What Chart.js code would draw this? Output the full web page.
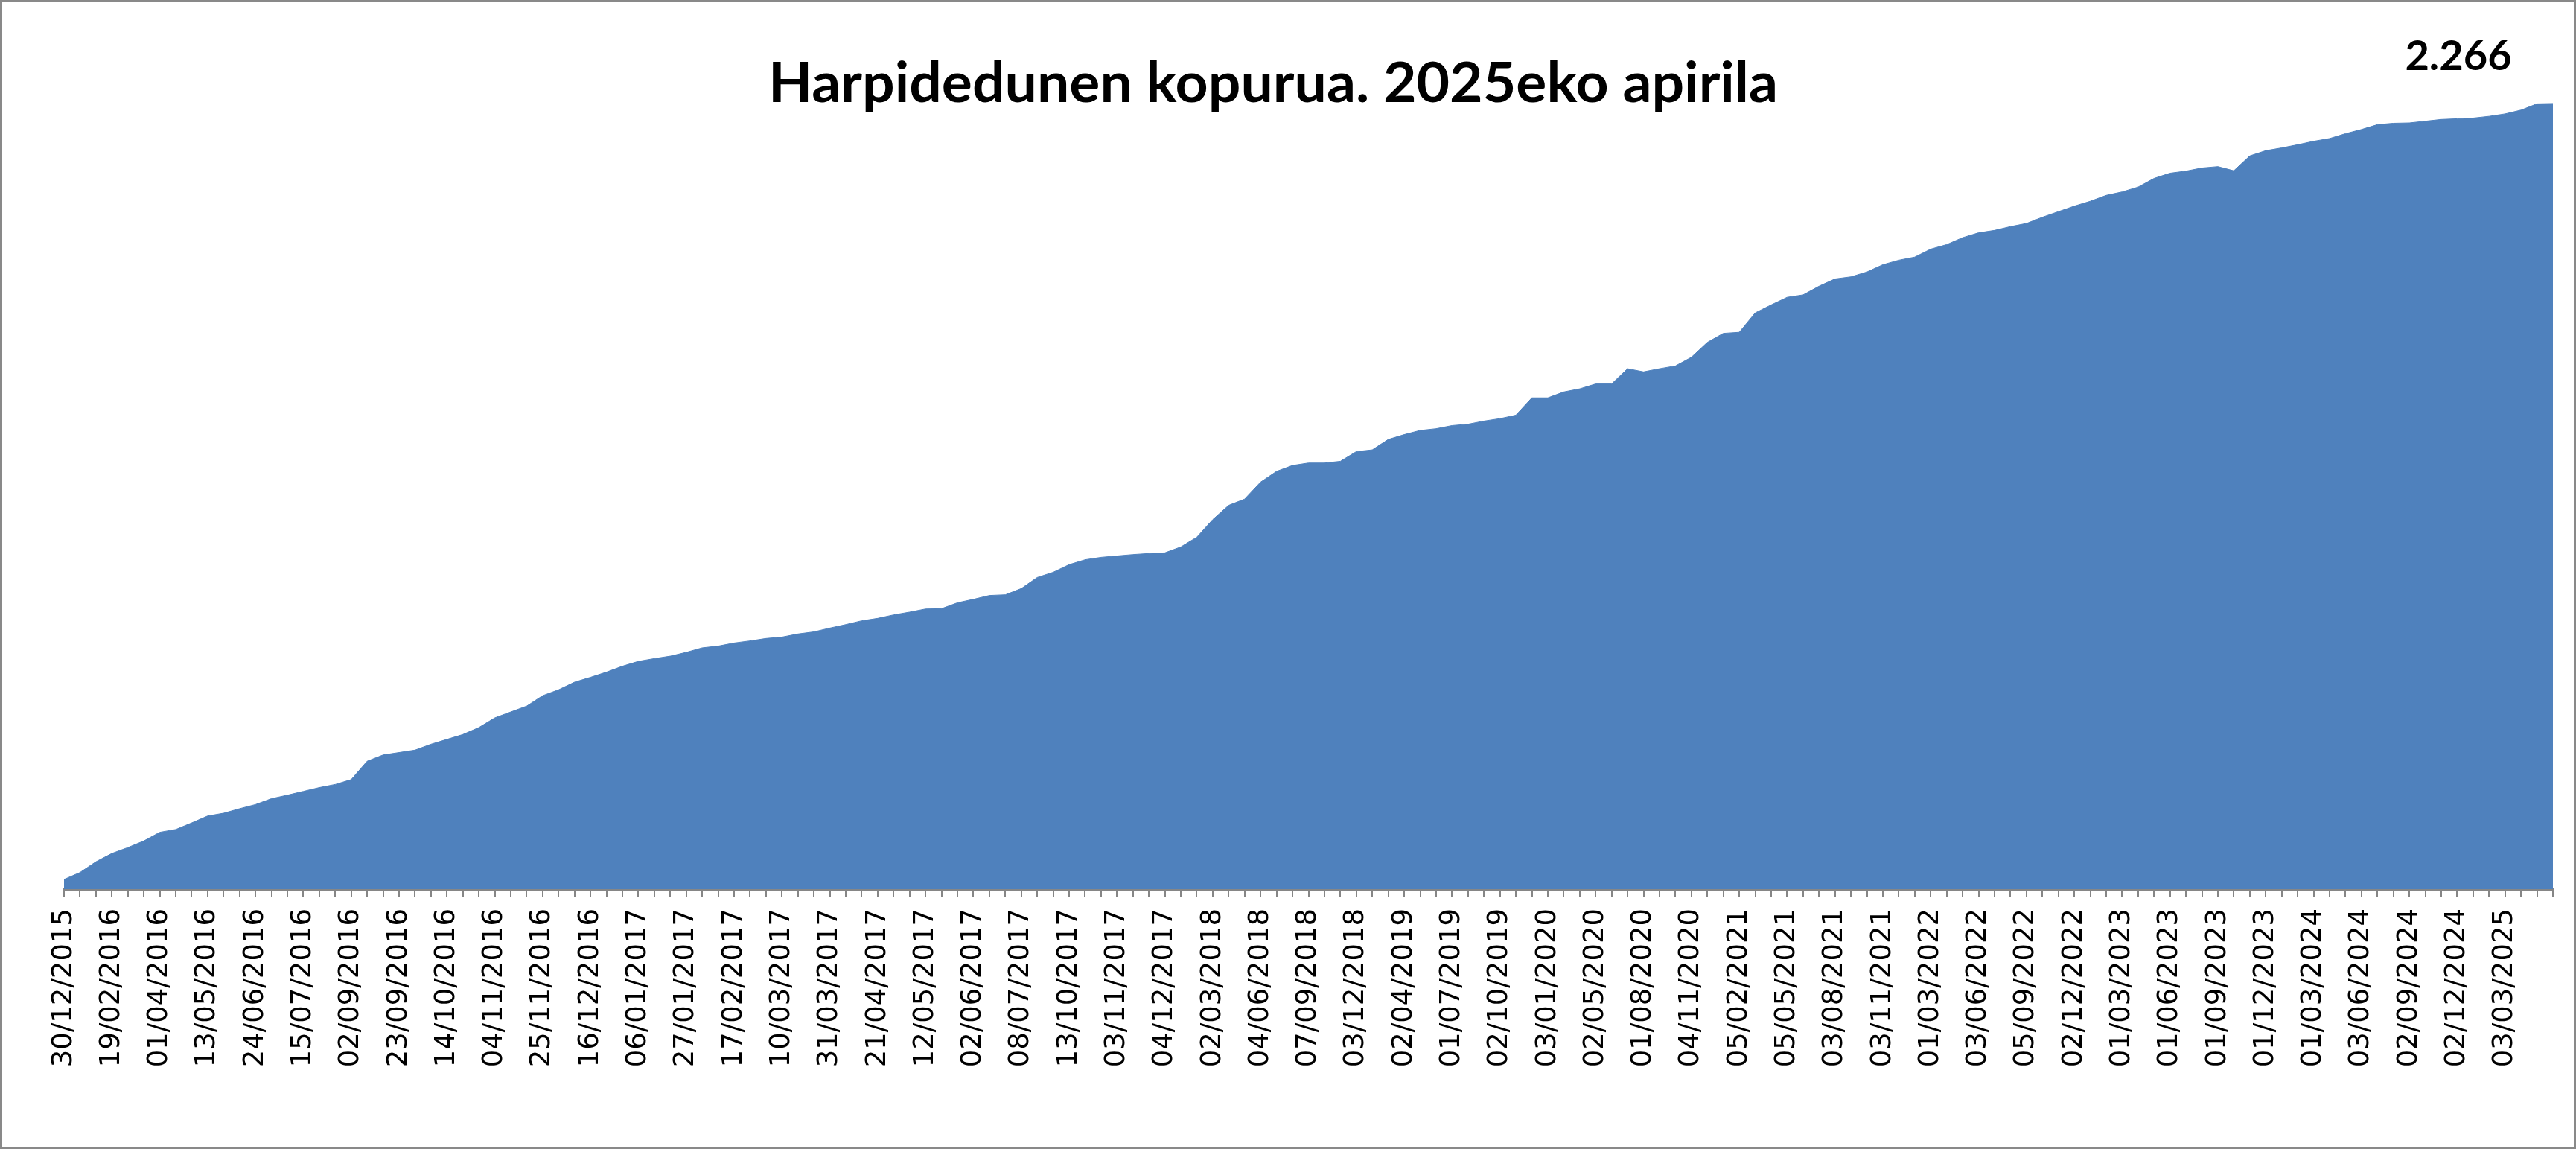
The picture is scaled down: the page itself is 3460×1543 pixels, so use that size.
<!DOCTYPE html>
<html>
<head>
<meta charset="utf-8">
<script src="https://cdn.jsdelivr.net/npm/chart.js@4.4.1/dist/chart.umd.min.js"></script>
<style>
  html, body { margin: 0; padding: 0; background: #ffffff; }
  #wrap { position: relative; width: 3460px; height: 1543px; }
</style>
</head>
<body>
<div id="wrap"><canvas id="c"></canvas></div>
<script>
const TITLE = 'Harpidedunen kopurua. 2025eko apirila';

// Visible tick labels (every third category)
const tickLabels = [
  '30/12/2015','19/02/2016','01/04/2016','13/05/2016','24/06/2016','15/07/2016',
  '02/09/2016','23/09/2016','14/10/2016','04/11/2016','25/11/2016','16/12/2016',
  '06/01/2017','27/01/2017','17/02/2017','10/03/2017','31/03/2017','21/04/2017',
  '12/05/2017','02/06/2017','08/07/2017','13/10/2017','03/11/2017','04/12/2017',
  '02/03/2018','04/06/2018','07/09/2018','03/12/2018','02/04/2019','01/07/2019',
  '02/10/2019','03/01/2020','02/05/2020','01/08/2020','04/11/2020','05/02/2021',
  '05/05/2021','03/08/2021','03/11/2021','01/03/2022','03/06/2022','05/09/2022',
  '02/12/2022','01/03/2023','01/06/2023','01/09/2023','01/12/2023','01/03/2024',
  '03/06/2024','02/09/2024','02/12/2024','03/03/2025'
];

// Subscriber counts, one per category
const subscribers = [
  28, 48, 79, 103, 120, 139, 164, 172, 191, 211,
  219, 232, 244, 261, 271, 282, 293, 302, 316, 369,
  387, 394, 401, 418, 432, 446, 466, 494, 511, 528,
  558, 575, 597, 611, 626, 643, 657, 665, 672, 683,
  696, 701, 710, 716, 723, 727, 736, 742, 753, 763,
  774, 781, 791, 799, 808, 809, 826, 836, 847, 849,
  867, 899, 914, 936, 950, 957, 961, 965, 968, 970,
  987, 1015, 1066, 1107, 1125, 1174, 1205, 1222, 1229, 1229,
  1234, 1262, 1267, 1297, 1311, 1323, 1328, 1337, 1341, 1350,
  1357, 1367, 1417, 1417, 1434, 1443, 1457, 1457, 1501, 1492,
  1501, 1509, 1534, 1577, 1603, 1606, 1662, 1685, 1707, 1714,
  1739, 1760, 1766, 1780, 1801, 1814, 1823, 1846, 1859, 1879,
  1893, 1900, 1911, 1920, 1938, 1954, 1970, 1984, 2001, 2011,
  2025, 2050, 2065, 2071, 2080, 2084, 2072, 2115, 2130, 2138,
  2147, 2157, 2165, 2179, 2191, 2205, 2209, 2210, 2215, 2220,
  2222, 2224, 2229, 2236, 2247, 2265, 2266
];

const LABEL_STEP = 3;
const categories = subscribers.map((_, i) =>
  (i % LABEL_STEP === 0 && tickLabels[i / LABEL_STEP] !== undefined) ? tickLabels[i / LABEL_STEP] : ''
);

function fmtThousands(v) {
  return String(v).replace(/\B(?=(\d{3})+(?!\d))/g, '.');
}

const frameAndTextPlugin = {
  id: 'frameAndText',
  beforeDraw(chart) {
    const ctx = chart.ctx;
    ctx.save();
    ctx.fillStyle = '#ffffff';
    ctx.fillRect(0, 0, chart.width, chart.height);
    ctx.restore();
  },
  afterDraw(chart) {
    const ctx = chart.ctx;
    // Title
    ctx.save();
    ctx.fillStyle = '#000000';
    ctx.font = 'bold 75px Lato';
    const w = ctx.measureText(TITLE).width;
    const sx = 1356 / w;
    ctx.translate(1710, 137);
    ctx.scale(sx, 1);
    ctx.textAlign = 'center';
    ctx.textBaseline = 'alphabetic';
    ctx.fillText(TITLE, 0, 0);
    ctx.restore();

    // Last value label
    const meta = chart.getDatasetMeta(0);
    const last = meta.data[meta.data.length - 1];
    const val = subscribers[subscribers.length - 1];
    ctx.save();
    ctx.fillStyle = '#000000';
    ctx.font = 'bold 56px Lato';
    ctx.textAlign = 'center';
    ctx.textBaseline = 'alphabetic';
    ctx.fillText(fmtThousands(val), last.x - 127, last.y - 44.5);
    ctx.restore();

    // Outer frame
    ctx.save();
    ctx.strokeStyle = '#898989';
    ctx.lineWidth = 3;
    ctx.strokeRect(1.5, 1.5, chart.width - 3, chart.height - 3);
    ctx.restore();
  }
};

new Chart(document.getElementById('c'), {
  type: 'line',
  data: {
    labels: categories,
    datasets: [{
      label: TITLE,
      data: subscribers,
      fill: 'origin',
      backgroundColor: '#4F81BD',
      borderColor: '#4F81BD',
      borderWidth: 1,
      pointRadius: 0,
      tension: 0
    }]
  },
  options: {
    responsive: true,
    maintainAspectRatio: false,
    animation: false,
    layout: { padding: { left: 86, right: 31, top: 30, bottom: 0 } },
    plugins: {
      legend: { display: false },
      title: { display: false },
      tooltip: { enabled: false }
    },
    scales: {
      x: {
        type: 'category',
        offset: false,
        grid: {
          display: true,
          drawOnChartArea: false,
          drawTicks: true,
          tickLength: 10,
          color: '#868686',
          lineWidth: 2
        },
        border: { display: true, color: '#868686', width: 3 },
        ticks: {
          autoSkip: false,
          maxRotation: 90,
          minRotation: 90,
          padding: 16,
          color: '#000000',
          font: { family: 'DejaVu Sans', size: 37 }
        },
        afterFit(scale) {
          scale.height = 349;
          scale.paddingLeft = 0;
          scale.paddingRight = 0;
        }
      },
      y: {
        display: false,
        min: 0,
        max: 2500
      }
    }
  },
  plugins: [frameAndTextPlugin]
});
</script>
</body>
</html>
